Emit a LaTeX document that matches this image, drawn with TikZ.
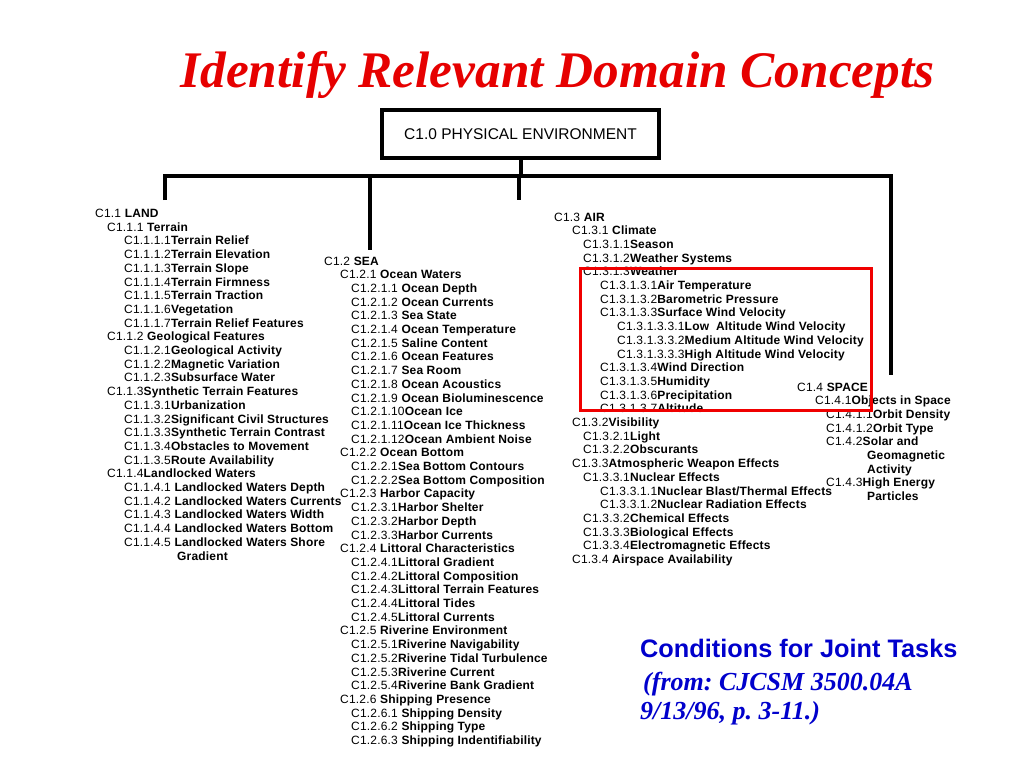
\documentclass[tikz,border=0pt]{standalone}
\usepackage{fontspec}
\setmainfont{Liberation Sans}
\newfontfamily\tnr{Liberation Serif}
\newfontfamily\bodyfont{Liberation Sans}[LetterSpace=1.5]
\definecolor{ttlred}{RGB}{230,0,0}
\definecolor{boxred}{RGB}{240,0,0}
\definecolor{ctblue}{RGB}{0,0,204}
\newcommand\yz{0}
\newcommand\tl[5]{\node[txt] (#1) at (#2,{\yz+#3*13.7}) {#4\textbf{#5}};}
\frenchspacing
\begin{document}
\begin{tikzpicture}[x=1pt,y=-1pt,
  txt/.style={anchor=base west,inner sep=0pt,font=\bodyfont\fontsize{12}{13.7}\selectfont},
  bar/.style={line width=4pt,line join=miter,line cap=butt},
  rootbox/.style={draw,line width=4pt,minimum width=277pt,minimum height=48pt,inner sep=0pt,font=\fontsize{15.5}{17}\selectfont}]
\fill[white] (0,0) rectangle (1024,768);
\useasboundingbox (0,0) rectangle (1024,768);

% title
\node[anchor=base,inner sep=0pt,text=ttlred,font=\tnr\bfseries\itshape\fontsize{51.3}{56}\selectfont] (title) at (557.5,87) {Identify Relevant Domain Concepts};

% root
\node[rootbox] (root) at (520.5,134) {C1.0 PHYSICAL ENVIRONMENT};

% connectors
\coordinate (jroot) at (520.5,176);
\coordinate (jl) at (165,176);
\coordinate (jsp) at (891,176);
\coordinate (el) at (165,200);
\coordinate (esp) at (891,375);
\coordinate (js) at (370,176);
\coordinate (es) at (370,250);
\coordinate (ja) at (519,176);
\coordinate (ea) at (519,200);
\draw[bar] (el) -- (jl) -- (jsp) -- (esp);
\draw[bar] (js) -- (es);
\draw[bar] (ja) -- (ea);
\draw[bar] (root.south) -- (jroot);

% LAND
\renewcommand\yz{217.5}
\tl{l0}{95}{0}{C1.1 }{LAND}
\tl{l1}{107}{1}{C1.1.1 }{Terrain}
\tl{l2}{124}{2}{C1.1.1.1}{Terrain Relief}
\tl{l3}{124}{3}{C1.1.1.2}{Terrain Elevation}
\tl{l4}{124}{4}{C1.1.1.3}{Terrain Slope}
\tl{l5}{124}{5}{C1.1.1.4}{Terrain Firmness}
\tl{l6}{124}{6}{C1.1.1.5}{Terrain Traction}
\tl{l7}{124}{7}{C1.1.1.6}{Vegetation}
\tl{l8}{124}{8}{C1.1.1.7}{Terrain Relief Features}
\tl{l9}{107}{9}{C1.1.2 }{Geological Features}
\tl{l10}{124}{10}{C1.1.2.1}{Geological Activity}
\tl{l11}{124}{11}{C1.1.2.2}{Magnetic Variation}
\tl{l12}{124}{12}{C1.1.2.3}{Subsurface Water}
\tl{l13}{107}{13}{C1.1.3}{Synthetic Terrain Features}
\tl{l14}{124}{14}{C1.1.3.1}{Urbanization}
\tl{l15}{124}{15}{C1.1.3.2}{Significant Civil Structures}
\tl{l16}{124}{16}{C1.1.3.3}{Synthetic Terrain Contrast}
\tl{l17}{124}{17}{C1.1.3.4}{Obstacles to Movement}
\tl{l18}{124}{18}{C1.1.3.5}{Route Availability}
\tl{l19}{107}{19}{C1.1.4}{Landlocked Waters}
\tl{l20}{124}{20}{C1.1.4.1 }{Landlocked Waters Depth}
\tl{l21}{124}{21}{C1.1.4.2 }{Landlocked Waters Currents}
\tl{l22}{124}{22}{C1.1.4.3 }{Landlocked Waters Width}
\tl{l23}{124}{23}{C1.1.4.4 }{Landlocked Waters Bottom}
\tl{l24}{124}{24}{C1.1.4.5 }{Landlocked Waters Shore}
\tl{l25}{177}{25}{}{Gradient}

% SEA
\renewcommand\yz{265}
\tl{s0}{324}{0}{C1.2 }{SEA}
\tl{s1}{340}{1}{C1.2.1 }{Ocean Waters}
\tl{s2}{351}{2}{C1.2.1.1 }{Ocean Depth}
\tl{s3}{351}{3}{C1.2.1.2 }{Ocean Currents}
\tl{s4}{351}{4}{C1.2.1.3 }{Sea State}
\tl{s5}{351}{5}{C1.2.1.4 }{Ocean Temperature}
\tl{s6}{351}{6}{C1.2.1.5 }{Saline Content}
\tl{s7}{351}{7}{C1.2.1.6 }{Ocean Features}
\tl{s8}{351}{8}{C1.2.1.7 }{Sea Room}
\tl{s9}{351}{9}{C1.2.1.8 }{Ocean Acoustics}
\tl{s10}{351}{10}{C1.2.1.9 }{Ocean Bioluminescence}
\tl{s11}{351}{11}{C1.2.1.10}{Ocean Ice}
\tl{s12}{351}{12}{C1.2.1.11}{Ocean Ice Thickness}
\tl{s13}{351}{13}{C1.2.1.12}{Ocean Ambient Noise}
\tl{s14}{340}{14}{C1.2.2 }{Ocean Bottom}
\tl{s15}{351}{15}{C1.2.2.1}{Sea Bottom Contours}
\tl{s16}{351}{16}{C1.2.2.2}{Sea Bottom Composition}
\tl{s17}{340}{17}{C1.2.3 }{Harbor Capacity}
\tl{s18}{351}{18}{C1.2.3.1}{Harbor Shelter}
\tl{s19}{351}{19}{C1.2.3.2}{Harbor Depth}
\tl{s20}{351}{20}{C1.2.3.3}{Harbor Currents}
\tl{s21}{340}{21}{C1.2.4 }{Littoral Characteristics}
\tl{s22}{351}{22}{C1.2.4.1}{Littoral Gradient}
\tl{s23}{351}{23}{C1.2.4.2}{Littoral Composition}
\tl{s24}{351}{24}{C1.2.4.3}{Littoral Terrain Features}
\tl{s25}{351}{25}{C1.2.4.4}{Littoral Tides}
\tl{s26}{351}{26}{C1.2.4.5}{Littoral Currents}
\tl{s27}{340}{27}{C1.2.5 }{Riverine Environment}
\tl{s28}{351}{28}{C1.2.5.1}{Riverine Navigability}
\tl{s29}{351}{29}{C1.2.5.2}{Riverine Tidal Turbulence}
\tl{s30}{351}{30}{C1.2.5.3}{Riverine Current}
\tl{s31}{351}{31}{C1.2.5.4}{Riverine Bank Gradient}
\tl{s32}{340}{32}{C1.2.6 }{Shipping Presence}
\tl{s33}{351}{33}{C1.2.6.1 }{Shipping Density}
\tl{s34}{351}{34}{C1.2.6.2 }{Shipping Type}
\tl{s35}{351}{35}{C1.2.6.3 }{Shipping Indentifiability}

% AIR
\renewcommand\yz{221}
\tl{a0}{554}{0}{C1.3 }{AIR}
\tl{a1}{572}{1}{C1.3.1 }{Climate}
\tl{a2}{583}{2}{C1.3.1.1}{Season}
\tl{a3}{583}{3}{C1.3.1.2}{Weather Systems}
\tl{a4}{583}{4}{C1.3.1.3}{Weather}
\tl{a5}{600}{5}{C1.3.1.3.1}{Air Temperature}
\tl{a6}{600}{6}{C1.3.1.3.2}{Barometric Pressure}
\tl{a7}{600}{7}{C1.3.1.3.3}{Surface Wind Velocity}
\tl{a8}{617}{8}{C1.3.1.3.3.1}{Low\ \ Altitude Wind Velocity}
\tl{a9}{617}{9}{C1.3.1.3.3.2}{Medium Altitude Wind Velocity}
\tl{a10}{617}{10}{C1.3.1.3.3.3}{High Altitude Wind Velocity}
\tl{a11}{600}{11}{C1.3.1.3.4}{Wind Direction}
\tl{a12}{600}{12}{C1.3.1.3.5}{Humidity}
\tl{a13}{600}{13}{C1.3.1.3.6}{Precipitation}
\tl{a14}{600}{14}{C1.3.1.3.7}{Altitude}
\tl{a15}{572}{15}{C1.3.2}{Visibility}
\tl{a16}{583}{16}{C1.3.2.1}{Light}
\tl{a17}{583}{17}{C1.3.2.2}{Obscurants}
\tl{a18}{572}{18}{C1.3.3}{Atmospheric Weapon Effects}
\tl{a19}{583}{19}{C1.3.3.1}{Nuclear Effects}
\tl{a20}{600}{20}{C1.3.3.1.1}{Nuclear Blast/Thermal Effects}
\tl{a21}{600}{21}{C1.3.3.1.2}{Nuclear Radiation Effects}
\tl{a22}{583}{22}{C1.3.3.2}{Chemical Effects}
\tl{a23}{583}{23}{C1.3.3.3}{Biological Effects}
\tl{a24}{583}{24}{C1.3.3.4}{Electromagnetic Effects}
\tl{a25}{572}{25}{C1.3.4 }{Airspace Availability}

% SPACE
\renewcommand\yz{391}
\tl{p0}{797}{0}{C1.4 }{SPACE}
\tl{p1}{815}{1}{C1.4.1}{Objects in Space}
\tl{p2}{826}{2}{C1.4.1.1}{Orbit Density}
\tl{p3}{826}{3}{C1.4.1.2}{Orbit Type}
\tl{p4}{826}{4}{C1.4.2}{Solar and}
\tl{p5}{867}{5}{}{Geomagnetic}
\tl{p6}{867}{6}{}{Activity}
\tl{p7}{826}{7}{C1.4.3}{High Energy}
\tl{p8}{867}{8}{}{Particles}

% highlight box
\draw[boxred,line width=3pt] (580,268) rectangle (871,410);

% source note
\node[anchor=base west,inner sep=0pt,text=ctblue,font=\bfseries\fontsize{25.3}{28}\selectfont] (cond) at (640,657) {Conditions for Joint Tasks};
\node[anchor=base west,inner sep=0pt,text=ctblue,font=\tnr\bfseries\itshape\fontsize{26}{29}\selectfont] (src1) at (643,690) {(from: CJCSM 3500.04A};
\node[anchor=base west,inner sep=0pt,text=ctblue,font=\tnr\bfseries\itshape\fontsize{26}{29}\selectfont] (src2) at (640,719) {9/13/96, p.\ 3-11.)};
\end{tikzpicture}
\end{document}
